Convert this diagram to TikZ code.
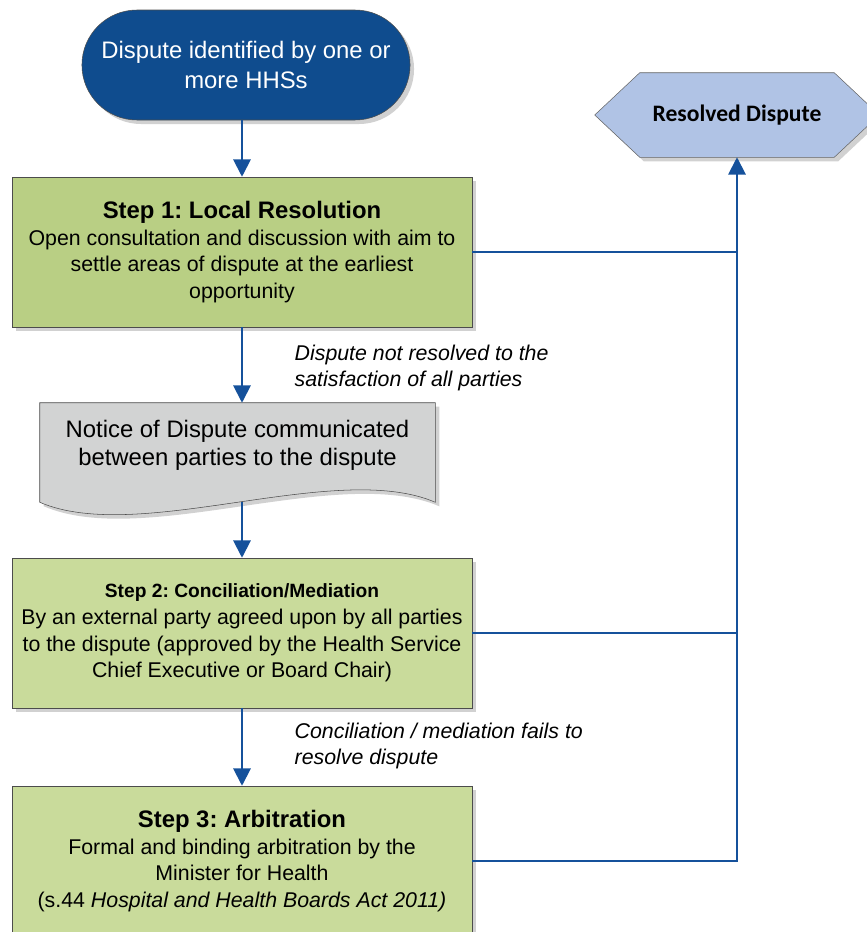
\documentclass[tikz,border=0pt]{standalone}
\usepackage{fontspec}
\setmainfont{Liberation Sans}
\newfontfamily\calibrifont{Carlito}
\usetikzlibrary{shapes.misc,shadows,arrows.meta,calc,backgrounds}
\frenchspacing

\definecolor{startblue}{HTML}{0F4C8E}
\definecolor{flowblue}{HTML}{15519B}
\definecolor{greenone}{HTML}{B9CF84}
\definecolor{greentwo}{HTML}{C9DB9B}
\definecolor{docgray}{HTML}{D2D3D3}
\definecolor{paleblue}{HTML}{B0C3E5}

\newcommand{\bigtext}{\fontsize{17.9}{22.5}\selectfont}
\newcommand{\bodytext}{\fontsize{16}{20}\selectfont}

\tikzset{
  boxshadow/.style={drop shadow={shadow xshift=3pt,shadow yshift=-3pt,fill=black,opacity=0.18}},
  stepbox/.style={draw=black!70, fill=#1, minimum width=345pt, minimum height=112.5pt,
    align=center, font=\bodytext, boxshadow},
  flowline/.style={draw=flowblue, line width=1.5pt},
  flowarrow/.style={flowline, -{Triangle[width=13pt,length=13pt]}},
  outcome/.style={anchor=west, align=left, font=\itshape\bodytext},
}

\begin{document}
\begin{tikzpicture}[x=0.75pt,y=-0.75pt]
  \useasboundingbox (0,0) rectangle (867,932);

  % Start of the process
  \node[rounded rectangle, draw=black!70, fill=startblue, text=white, minimum width=252.75pt,
    minimum height=82.5pt, align=center, font=\bigtext, boxshadow] (start) at (246,65)
    {Dispute identified by one or\\more HHSs};

  % Outcome box (hexagon drawn behind)
  \node[minimum width=213pt, minimum height=63pt, font=\calibrifont\bfseries\fontsize{17.7}{21}\selectfont]
    (resolved) at (737,115) {Resolved Dispute};

  % Steps
  \node[stepbox=greenone] (step1) at (242,252)
    {{\bigtext\bfseries Step 1: Local Resolution}\\
     Open consultation and discussion with aim to\\
     settle areas of dispute at the earliest\\
     opportunity};

  % Notice of dispute (document drawn behind)
  \node[minimum width=296.25pt, minimum height=74.25pt] (notice) at (237.5,452.5) {};
  \node[align=center, font=\bigtext\fontsize{17.9}{21}\selectfont] (noticetext) at (237.5,445)
    {Notice of Dispute communicated\\between parties to the dispute};

  \node[stepbox=greentwo] (step2) at (242,633)
    {{\fontsize{14.4}{18}\selectfont\bfseries Step 2: Conciliation/Mediation}\\
     By an external party agreed upon by all parties\\
     to the dispute (approved by the Health Service\\
     Chief Executive or Board Chair)};

  \node[stepbox=greentwo] (step3) at (242,861)
    {{\bigtext\bfseries Step 3: Arbitration}\\
     Formal and binding arbitration by the\\
     Minister for Health\\
     (s.44 \textit{Hospital and Health Boards Act 2011)}};

  % Conditions between the steps
  \node[outcome] (notresolved) at (290,368)
    {Dispute not resolved to the\\satisfaction of all parties};
  \node[outcome] (fails) at (290,746)
    {Conciliation / mediation fails to\\resolve dispute};

  % Shapes behind the texts
  \begin{scope}[on background layer]
    \draw[draw=black!60, fill=paleblue, boxshadow]
      (resolved.west) -- ($(resolved.north west)+(45,0)$) -- ($(resolved.north east)+(-45,0)$)
      -- (resolved.east) -- ($(resolved.south east)+(-45,0)$) -- ($(resolved.south west)+(45,0)$) -- cycle;
    \draw[draw=black!70, fill=docgray, boxshadow]
      (notice.south west) -- (notice.north west) -- (notice.north east) -- (notice.south east)
      .. controls ($(notice.south east)+(-100,-43)$) and ($(notice.south west)+(100,43)$) .. (notice.south west);
  \end{scope}

  % Down the steps
  \draw[flowarrow] (start.south -| step1.north) -- (step1.north);
  \draw[flowarrow] (step1.south) -- (step1.south |- notice.north);
  \draw[flowarrow] (step1.south |- notice.south) -- (step2.north);
  \draw[flowarrow] (step2.south) -- (step3.north);

  % Over to the outcome
  \draw[flowline] (step1.east) -- (step1.east -| resolved.south);
  \draw[flowline] (step2.east) -- (step2.east -| resolved.south);
  \draw[flowarrow] (step3.east) -- (step3.east -| resolved.south) -- (resolved.south);
\end{tikzpicture}
\end{document}
